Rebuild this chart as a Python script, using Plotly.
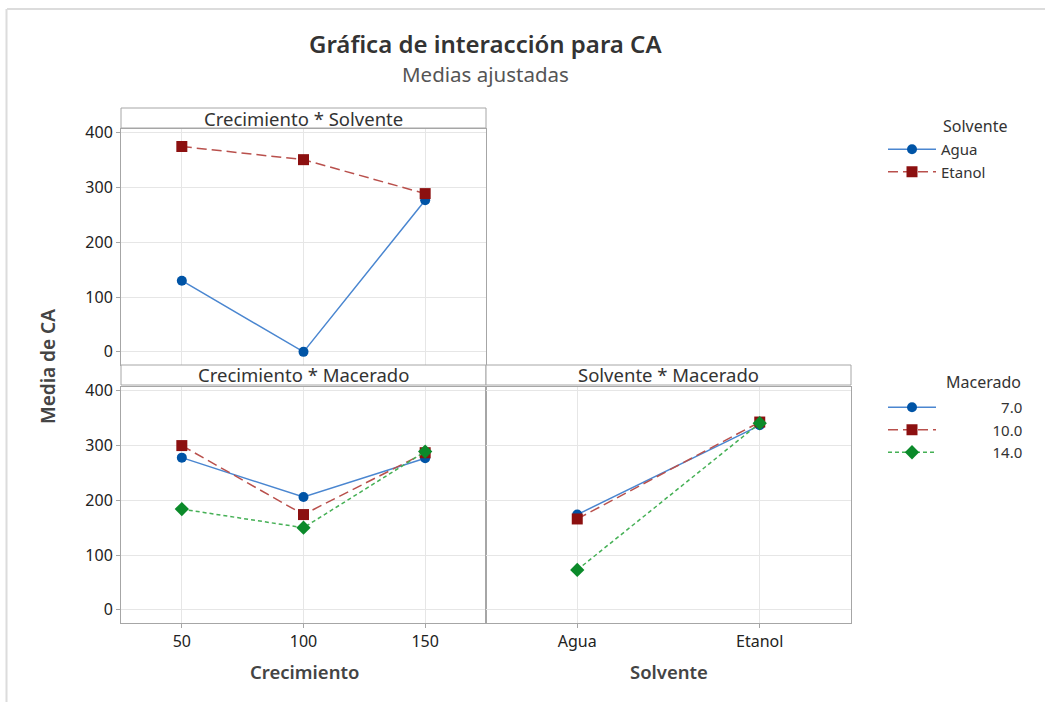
import plotly.graph_objects as go

# --- data (adjusted means of CA) ---
crecimiento = [50, 100, 150]
solvente = ["Agua", "Etanol"]
macerado = ["7.0", "10.0", "14.0"]

# Crecimiento * Solvente
cs_agua = [130, 0, 277]
cs_etanol = [375, 351, 289]

# Crecimiento * Macerado
cm_7 = [278, 206, 277]
cm_10 = [300, 174, 287]
cm_14 = [184, 150, 289]

# Solvente * Macerado
sm_7 = [174, 337]
sm_10 = [166, 343]
sm_14 = [73, 341]

y_ticks = [0, 100, 200, 300, 400]

W, H = 1045, 702
FONT = "Segoe UI, Noto Sans, Open Sans, sans-serif"

def px(x):
    return x / W

# the page shows the figure a bit lower than its nominal box; map ref pixels to paper
def py(y):
    return 1 - (y - 9) / 694

blue_m, blue_l = "#0054A6", "#4A86D0"
red_m, red_l = "#8C1010", "#B9504C"
green_m, green_l = "#0B8A2A", "#45B055"

styles = {
    "7.0": dict(mc=blue_m, lc=blue_l, sym="circle", size=10, dash="solid"),
    "10.0": dict(mc=red_m, lc=red_l, sym="square", size=11, dash="10px,5px"),
    "14.0": dict(mc=green_m, lc=green_l, sym="diamond", size=11, dash="4px,3px"),
}

fig = go.Figure()

def add(x, y, st, xa, ya, name, legend, show):
    fig.add_trace(go.Scatter(
        x=x, y=y, mode="lines+markers", name=name,
        xaxis=xa, yaxis=ya, legend=legend, showlegend=show,
        line=dict(color=st["lc"], width=1.5, dash=st["dash"]),
        marker=dict(color=st["mc"], symbol=st["sym"], size=st["size"]),
    ))

# top-left panel
add(crecimiento, cs_agua, styles["7.0"], "x", "y", "Agua", "legend", True)
add(crecimiento, cs_etanol, styles["10.0"], "x", "y", "Etanol", "legend", True)

# bottom-left panel (figure spaces right-align the legend numbers)
pad = "\u2007"
labels = {"7.0": pad * 7 + "7.0", "10.0": pad * 6 + "10.0", "14.0": pad * 6 + "14.0"}
for key, vals in zip(macerado, [cm_7, cm_10, cm_14]):
    add(crecimiento, vals, styles[key], "x2", "y2", labels[key], "legend2", True)

# bottom-right panel
for key, vals in zip(macerado, [sm_7, sm_10, sm_14]):
    add(solvente, vals, styles[key], "x3", "y3", labels[key], "legend2", False)

grid = "#E6E6E6"
frame = "#A6A6A6"
tickfont = dict(family=FONT, size=16, color="#222222")

def yax(domain, labels_on):
    return dict(domain=domain, range=[-24, 407], tickvals=y_ticks,
                showticklabels=labels_on, ticks="outside" if labels_on else "",
                ticklen=4, tickcolor=frame, showgrid=True, gridcolor=grid,
                zeroline=False, showline=True, mirror=True, linecolor=frame,
                linewidth=1, tickfont=tickfont)

def xax(domain, rng, labels_on, anchor, **kw):
    d = dict(domain=domain, range=rng, anchor=anchor, showticklabels=labels_on,
             ticks="outside" if labels_on else "", ticklen=4, tickcolor=frame,
             showgrid=True, gridcolor=grid, zeroline=False, showline=True,
             mirror=True, linecolor=frame, linewidth=1, tickfont=tickfont)
    d.update(kw)
    return d

left = [px(121), px(486)]
right = [px(486), px(851)]
top_dom = [py(366), py(130)]
bot_dom = [py(624), py(388)]

fig.update_layout(
    xaxis=xax(left, [25, 175], False, "y", tickvals=crecimiento),
    yaxis=yax(top_dom, True) | dict(anchor="x"),
    xaxis2=xax(left, [25, 175], True, "y2", tickvals=crecimiento),
    yaxis2=yax(bot_dom, True) | dict(anchor="x2"),
    xaxis3=xax(right, [-0.5, 1.5], True, "y3", type="category",
               categoryorder="array", categoryarray=solvente),
    yaxis3=yax(bot_dom, False) | dict(anchor="x3"),
)

# strip headers
shapes = []
annotations = []
for (x0, x1), y0, y1, text in [((121, 486), 109, 129, "Crecimiento * Solvente"),
                               ((121, 486), 366, 386, "Crecimiento * Macerado"),
                               ((486, 851), 366, 386, "Solvente * Macerado")]:
    shapes.append(dict(type="rect", xref="paper", yref="paper",
                       x0=px(x0), x1=px(x1), y0=py(y1), y1=py(y0),
                       line=dict(color=frame, width=1), fillcolor="white"))
    annotations.append(dict(text=text, x=px((x0 + x1) / 2), y=py((y0 + y1) / 2),
                            xref="paper", yref="paper", showarrow=False,
                            xanchor="center", yanchor="middle",
                            font=dict(family=FONT, size=18.5, color="#333333")))

# screenshot frame
shapes.append(dict(type="line", xref="paper", yref="paper", x0=px(7), x1=1,
                   y0=py(10), y1=py(10), line=dict(color="#DCDCDC", width=2)))
shapes.append(dict(type="line", xref="paper", yref="paper", x0=px(6.5), x1=px(6.5),
                   y0=0, y1=py(10), line=dict(color="#DCDCDC", width=2)))

def label(text, x, y, size, color="#333333", anchor="center", angle=0, weight="normal"):
    annotations.append(dict(text=text, x=px(x), y=py(y), xref="paper", yref="paper",
                            showarrow=False, xanchor=anchor, yanchor="middle",
                            textangle=angle,
                            font=dict(family=FONT, size=size, color=color, weight=weight)))

label("Gráfica de interacción para CA", 485, 44, 24, "#333333", weight=600)
label("Medias ajustadas", 485, 75, 20.5, "#555555")
label("Crecimiento", 304, 672, 18.5, "#444444", weight=600)
label("Solvente", 669, 672, 18.5, "#444444", weight=600)
label("Media de CA", 48, 368, 19, "#444444", angle=-90, weight=600)
label("Solvente", 941, 127, 16, "#333333", anchor="left")
label("Macerado", 944, 383, 16, "#333333", anchor="left")

legend_style = dict(xref="paper", yref="paper", xanchor="left", yanchor="top",
                    bgcolor="rgba(0,0,0,0)", borderwidth=0, tracegroupgap=0,
                    itemwidth=48,
                    font=dict(family=FONT, size=15, color="#333333"))

fig.update_layout(
    width=W, height=H,
    margin=dict(l=0, r=0, t=0, b=0),
    paper_bgcolor="white",
    plot_bgcolor="white",
    shapes=shapes,
    annotations=annotations,
    legend=legend_style | dict(x=px(883), y=py(134)),
    legend2=legend_style | dict(x=px(883), y=py(392)),
)

fig.write_html("out.html", config={"displayModeBar": False},
               post_script="document.body.style.margin = '0';")
